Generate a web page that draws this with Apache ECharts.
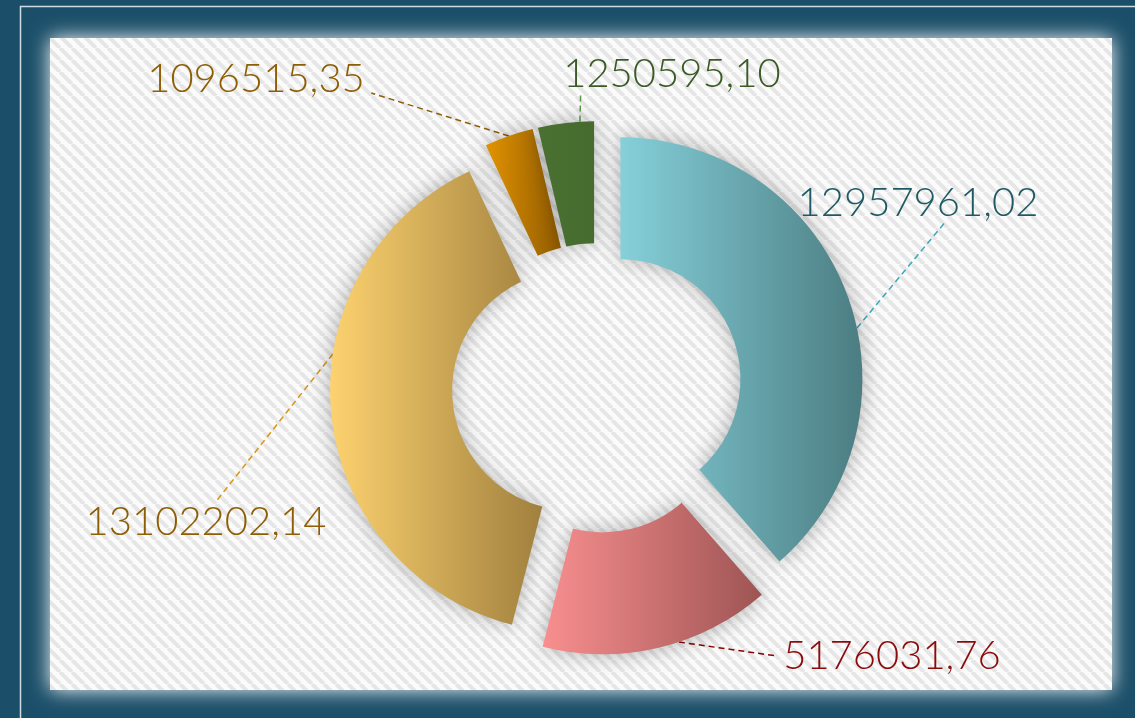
<!DOCTYPE html>
<html>
<head>
<meta charset="utf-8">
<title>Doughnut</title>
<script src="https://cdn.jsdelivr.net/npm/echarts@6/dist/echarts.min.js"></script>
<style>
  html, body { margin: 0; padding: 0; background: #1b4f69; }
  #chart { width: 1135px; height: 718px; }
</style>
</head>
<body>
<div id="chart"></div>
<script>
// 数据
const names = ['A', 'B', 'C', 'D', 'E'];
const values = [12957961.02, 5176031.76, 13102202.14, 1096515.35, 1250595.10];

// 渐变颜色 (左 -> 右)
const colorsLeft = ['#86d0da', '#f98f8f', '#fdd26f', '#e39300', '#4a7032'];
const colorsRight = ['#4b7d82', '#9e5454', '#a0803e', '#8e5a00', '#466b2e'];
const labelColors = ['#1f5a64', '#8b0a0a', '#8e5e05', '#8e5e05', '#3b5a26'];
const lineColors = ['#3aa9b8', '#8b0000', '#d9950f', '#8e5e05', '#5a9a44'];

// 标签位置 (中心点) / 引导线在标签框上的落点 / 引导线在扇形外弧上的起点(比例)
const labelCenters = [[918, 203], [892, 656], [206, 522], [256, 79], [672, 74]];
const lineEnds = [[0.61, 1], [-0.03, 0.5], [0.54, 0], [1.03, 0.85], [0.08, 1]];
const lineStarts = [0.56, 0.41, 0.6, 0.5, 0.75];

// 图形参数
const CX = 597;
const CY = 388;
const R_IN = 120;
const R_OUT = 242;
const EXPLODE = 25;

// 背景斜纹
const makePattern = () => {
  const c = document.createElement('canvas');
  c.width = 12;
  c.height = 12;
  const ctx = c.getContext('2d');
  ctx.fillStyle = '#fbfbfb';
  ctx.fillRect(0, 0, 12, 12);
  ctx.strokeStyle = '#e6e6e6';
  ctx.lineWidth = 4;
  [-12, 0, 12].forEach((o) => {
    ctx.beginPath();
    ctx.moveTo(o, 0);
    ctx.lineTo(o + 12, 12);
    ctx.stroke();
  });
  return c;
};

const el = document.getElementById('chart');
const chart = echarts.init(el);

const fmt = (v) => v.toFixed(2).replace('.', ',');

// 每块扇形的起止角度 (从正上方顺时针, 弧度)
const total = values.reduce((a, b) => a + b, 0);
const angles = [];
let acc = 0;
values.forEach((v) => {
  const a0 = (acc / total) * Math.PI * 2;
  acc += v;
  const a1 = (acc / total) * Math.PI * 2;
  angles.push([a0, a1]);
});

// 分离效果: 每块扇形单独一个系列, 圆心沿中线方向偏移
const centers = angles.map(([a0, a1]) => {
  const mid = (a0 + a1) / 2;
  return [CX + EXPLODE * Math.sin(mid), CY - EXPLODE * Math.cos(mid)];
});

const makeSeries = (i) => ({
  type: 'pie',
  center: centers[i],
  radius: [R_IN, R_OUT],
  startAngle: 90,
  clockwise: true,
  silent: true,
  avoidLabelOverlap: false,
  emphasis: { disabled: true },
  itemStyle: {
    shadowBlur: 22,
    shadowColor: 'rgba(0,0,0,0.3)',
  },
  label: {
    show: false,
    position: 'outside',
    fontFamily: 'Lato',
    fontWeight: 300,
    fontSize: 40,
    formatter: (p) => fmt(p.value),
  },
  labelLine: {
    show: false,
    length: 10,
    length2: 0,
    lineStyle: { type: [6, 4], width: 1.5 },
  },
  labelLayout: (params) => {
    const j = params.dataIndex;
    if (j !== i) return {};
    const c = labelCenters[j];
    const w = params.labelRect.width;
    const h = params.labelRect.height;
    const [a0, a1] = angles[j];
    const a = a0 + (a1 - a0) * lineStarts[j];
    const start = [centers[j][0] + R_OUT * Math.sin(a), centers[j][1] - R_OUT * Math.cos(a)];
    const end = [c[0] - w / 2 + lineEnds[j][0] * w, c[1] - h / 2 + lineEnds[j][1] * h];
    const mid = [(start[0] + end[0]) / 2, (start[1] + end[1]) / 2];
    return {
      x: c[0],
      y: c[1],
      align: 'center',
      verticalAlign: 'middle',
      labelLinePoints: [start, mid, end],
    };
  },
  data: values.map((v, j) => {
    const on = j === i;
    return {
      name: names[j],
      value: v,
      itemStyle: on
        ? {
            color: {
              type: 'linear', x: 0, y: 0, x2: 1, y2: 0,
              colorStops: [
                { offset: 0, color: colorsLeft[j] },
                { offset: 1, color: colorsRight[j] },
              ],
            },
          }
        : { color: 'rgba(0,0,0,0)', shadowBlur: 0 },
      label: { show: on, color: labelColors[j] },
      labelLine: { show: on, lineStyle: { color: lineColors[j] } },
    };
  }),
});

chart.setOption({
  backgroundColor: '#1b4f69',
  animation: false,
  graphic: [
    {
      type: 'rect',
      z: -10,
      shape: { x: 20.5, y: 6.5, width: 1400, height: 900 },
      style: { fill: 'none', stroke: '#cfdce2', lineWidth: 1.5 },
      silent: true,
    },
    {
      type: 'rect',
      z: -9,
      shape: { x: 50, y: 38, width: 1062, height: 652 },
      style: {
        fill: { image: makePattern(), repeat: 'repeat' },
        shadowBlur: 20,
        shadowColor: '#ffffff',
      },
      silent: true,
    },
  ],
  series: values.map((v, i) => makeSeries(i)),
});
</script>
</body>
</html>
